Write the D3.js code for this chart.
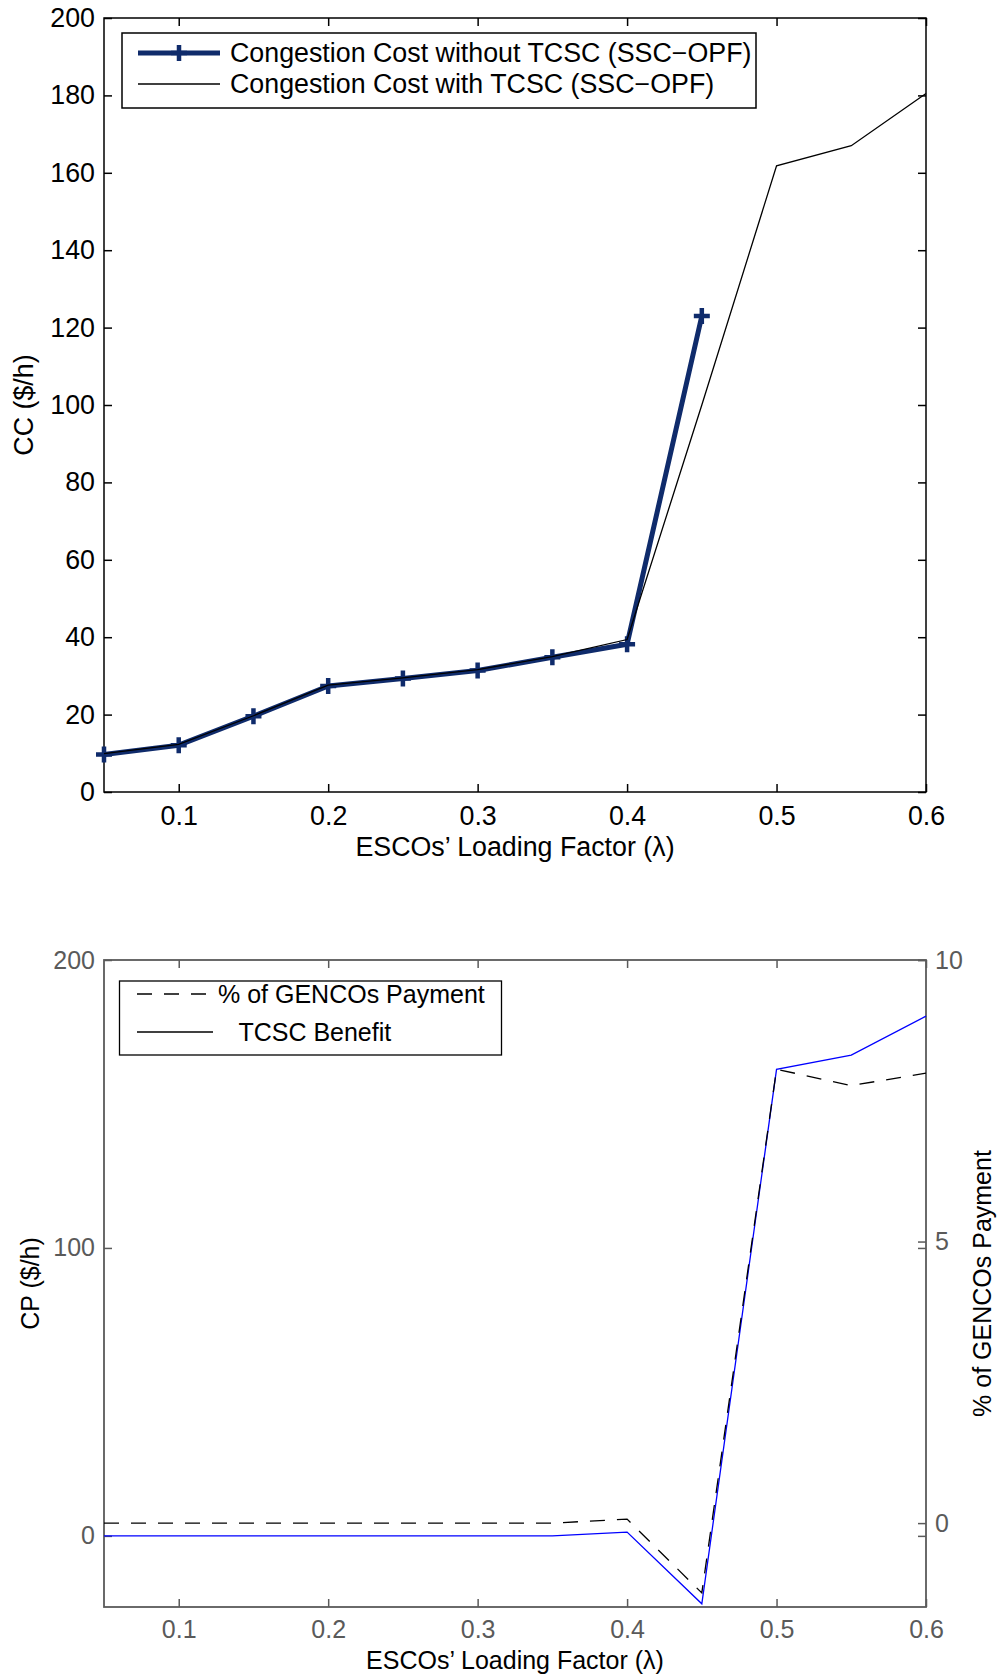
<!DOCTYPE html>
<html><head><meta charset="utf-8">
<script src="https://cdn.jsdelivr.net/npm/d3@7"></script>
<style>
body{margin:0;background:#fff}
svg{display:block}
text{font-family:"Liberation Sans",Arial,Helvetica,sans-serif}
</style>
</head><body><div id="chart"></div>
<script>
// ---------- data ----------
const lambda = [0.05,0.10,0.15,0.20,0.25,0.30,0.35,0.40,0.45,0.50,0.55,0.60];
const lambdaWithout = [0.05,0.10,0.15,0.20,0.25,0.30,0.35,0.40,0.45];
const ccWithoutTCSC = [9.7,12.1,19.6,27.4,29.3,31.4,34.8,38.2,123];
const ccWithTCSC = [9.9,12.3,19.7,27.6,29.5,31.6,35.0,39.4,100,161.8,167,180.5];
const tcscBenefit = [0,0,0,0,0,0,0,1.3,-23.6,162,167,180.5];
const gencoPaymentPct = [0,0,0,0,0,0,0,0.07,-1.24,8.06,7.77,7.99];
const xTicks = [0.1,0.2,0.3,0.4,0.5,0.6];
const ccTicks = [0,20,40,60,80,100,120,140,160,180,200];
const cpTicks = [0,100,200];
const pctTicks = [0,5,10];
const legendTop = ["Congestion Cost without TCSC (SSC\u2212OPF)","Congestion Cost with TCSC (SSC\u2212OPF)"];
const legendBottom = ["% of GENCOs Payment","   TCSC Benefit"];
const xLabel = "ESCOs\u2019 Loading Factor (\u03bb)";

// ---------- layout ----------
const W = 999, H = 1678;
const svg = d3.select("#chart").append("svg").attr("width", W).attr("height", H);
const L = 104, R = 926;
const x = d3.scaleLinear().domain([0.05, 0.6]).range([L, R]);
const fmtX = d3.format(".1f");

function styleAxis(g, color, fs) {
  g.select(".domain").remove();
  g.selectAll(".tick line").attr("stroke", color).attr("stroke-width", 1.5);
  g.selectAll(".tick text").attr("fill", color).attr("font-size", fs).attr("font-family", '"Liberation Sans",Arial,sans-serif');
}
function plusPath(s) { return `M${-s},0H${s}M0,${-s}V${s}`; }

// ---------- TOP CHART ----------
const T1 = 18, B1 = 792;
const y1 = d3.scaleLinear().domain([0, 200]).range([B1, T1]);
const gTop = svg.append("g");
const fs1 = 26.8;

gTop.append("g").attr("transform", `translate(0,${B1})`)
  .call(d3.axisBottom(x).tickValues(xTicks).tickFormat(fmtX).tickSizeInner(-8).tickSizeOuter(0).tickPadding(14))
  .call(g => styleAxis(g, "#000", fs1));
gTop.append("g").attr("transform", `translate(0,${T1})`)
  .call(d3.axisTop(x).tickValues(xTicks).tickFormat("").tickSizeInner(-8).tickSizeOuter(0))
  .call(g => styleAxis(g, "#000", fs1));
gTop.append("g").attr("transform", `translate(${L},0)`)
  .call(d3.axisLeft(y1).tickValues(ccTicks).tickFormat(d3.format("d")).tickSizeInner(-8).tickSizeOuter(0).tickPadding(9))
  .call(g => styleAxis(g, "#000", fs1));
gTop.append("g").attr("transform", `translate(${R},0)`)
  .call(d3.axisRight(y1).tickValues(ccTicks).tickFormat("").tickSizeInner(-8).tickSizeOuter(0))
  .call(g => styleAxis(g, "#000", fs1));
gTop.append("rect").attr("x", L).attr("y", T1).attr("width", R - L).attr("height", B1 - T1)
  .attr("fill", "none").attr("stroke", "#000").attr("stroke-width", 1.5);

const navy = "#0f2b6b";
const lineTopA = d3.line().x((d, i) => x(lambdaWithout[i])).y(d => y1(d));
const lineTopB = d3.line().x((d, i) => x(lambda[i])).y(d => y1(d));
gTop.append("path").datum(ccWithoutTCSC).attr("d", lineTopA)
  .attr("fill", "none").attr("stroke", navy).attr("stroke-width", 5).attr("stroke-linejoin", "round");
gTop.append("g").selectAll("path").data(ccWithoutTCSC).join("path")
  .attr("transform", (d, i) => `translate(${x(lambdaWithout[i])},${y1(d)})`)
  .attr("d", plusPath(8)).attr("stroke", navy).attr("stroke-width", 4.5).attr("fill", "none");
gTop.append("path").datum(ccWithTCSC).attr("d", lineTopB)
  .attr("fill", "none").attr("stroke", "#000").attr("stroke-width", 1.3);

// legend top
const lg1 = gTop.append("g");
lg1.append("rect").attr("x", 122).attr("y", 33).attr("width", 634).attr("height", 75)
  .attr("fill", "#fff").attr("stroke", "#000").attr("stroke-width", 1.5);
lg1.append("line").attr("x1", 138).attr("x2", 220).attr("y1", 53).attr("y2", 53)
  .attr("stroke", navy).attr("stroke-width", 5);
lg1.append("path").attr("transform", "translate(179,53)").attr("d", plusPath(8))
  .attr("stroke", navy).attr("stroke-width", 4.5);
lg1.append("line").attr("x1", 138).attr("x2", 220).attr("y1", 84).attr("y2", 84)
  .attr("stroke", "#000").attr("stroke-width", 1.3);
lg1.selectAll("text").data(legendTop).join("text")
  .attr("x", 230).attr("y", (d, i) => 53 + i * 31).attr("dy", "0.35em")
  .attr("font-size", fs1).attr("fill", "#000").text(d => d);

gTop.append("text").attr("x", (L + R) / 2).attr("y", 847).attr("dy", "0.35em")
  .attr("text-anchor", "middle").attr("font-size", fs1).text(xLabel);
gTop.append("text").attr("transform", `translate(24,${(T1 + B1) / 2}) rotate(-90)`)
  .attr("dy", "0.35em").attr("text-anchor", "middle").attr("font-size", fs1).text("CC ($/h)");

// ---------- BOTTOM CHART ----------
const T2 = 960, B2 = 1607;
const y2 = d3.scaleLinear().domain([-24.7, 200]).range([B2, T2]);
const y3 = d3.scaleLinear().domain([-1.49, 10]).range([B2, T2]);
const gBot = svg.append("g");
const fs2 = 25;
const gray = "#5a5a5a";

gBot.append("g").attr("transform", `translate(0,${B2})`)
  .call(d3.axisBottom(x).tickValues(xTicks).tickFormat(fmtX).tickSizeInner(-8).tickSizeOuter(0).tickPadding(13))
  .call(g => styleAxis(g, gray, fs2));
gBot.append("g").attr("transform", `translate(0,${T2})`)
  .call(d3.axisTop(x).tickValues(xTicks).tickFormat("").tickSizeInner(-8).tickSizeOuter(0))
  .call(g => styleAxis(g, gray, fs2));
gBot.append("g").attr("transform", `translate(${L},0)`)
  .call(d3.axisLeft(y2).tickValues(cpTicks).tickFormat(d3.format("d")).tickSizeInner(-8).tickSizeOuter(0).tickPadding(9))
  .call(g => styleAxis(g, gray, fs2));
gBot.append("g").attr("transform", `translate(${R},0)`)
  .call(d3.axisRight(y2).tickValues(cpTicks).tickFormat("").tickSizeInner(-8).tickSizeOuter(0))
  .call(g => styleAxis(g, gray, fs2));
gBot.append("g").attr("transform", `translate(${R},0)`)
  .call(d3.axisRight(y3).tickValues(pctTicks).tickFormat(d3.format("d")).tickSizeInner(-8).tickSizeOuter(0).tickPadding(9))
  .call(g => styleAxis(g, gray, fs2));
gBot.append("rect").attr("x", L).attr("y", T2).attr("width", R - L).attr("height", B2 - T2)
  .attr("fill", "none").attr("stroke", gray).attr("stroke-width", 1.8);

const lineBen = d3.line().x((d, i) => x(lambda[i])).y(d => y2(d));
const linePct = d3.line().x((d, i) => x(lambda[i])).y(d => y3(d));
gBot.append("path").datum(tcscBenefit).attr("d", lineBen)
  .attr("fill", "none").attr("stroke", "#0000ff").attr("stroke-width", 1.3);
gBot.append("path").datum(gencoPaymentPct).attr("d", linePct)
  .attr("fill", "none").attr("stroke", "#000").attr("stroke-width", 1.3).attr("stroke-dasharray", "15,12");

// legend bottom
const lg2 = gBot.append("g");
lg2.append("rect").attr("x", 119.5).attr("y", 981).attr("width", 382).attr("height", 74)
  .attr("fill", "#fff").attr("stroke", "#000").attr("stroke-width", 1.3);
lg2.append("line").attr("x1", 137).attr("x2", 213).attr("y1", 994).attr("y2", 994)
  .attr("stroke", "#000").attr("stroke-width", 1.3).attr("stroke-dasharray", "15,12");
lg2.append("line").attr("x1", 137).attr("x2", 213).attr("y1", 1032).attr("y2", 1032)
  .attr("stroke", "#000").attr("stroke-width", 1.3);
lg2.selectAll("text").data(legendBottom).join("text")
  .attr("x", 218).attr("y", (d, i) => 994 + i * 38).attr("dy", "0.35em")
  .style("white-space", "pre")
  .attr("font-size", fs2).attr("fill", "#000").text(d => d);

gBot.append("text").attr("x", (L + R) / 2).attr("y", 1660).attr("dy", "0.35em")
  .attr("text-anchor", "middle").attr("font-size", fs2).text(xLabel);
gBot.append("text").attr("transform", `translate(30,${(T2 + B2) / 2}) rotate(-90)`)
  .attr("dy", "0.35em").attr("text-anchor", "middle").attr("font-size", fs2).text("CP ($/h)");
gBot.append("text").attr("transform", `translate(982,${(T2 + B2) / 2}) rotate(-90)`)
  .attr("dy", "0.35em").attr("text-anchor", "middle").attr("font-size", fs2).text("% of GENCOs Payment");
</script>
</body></html>
